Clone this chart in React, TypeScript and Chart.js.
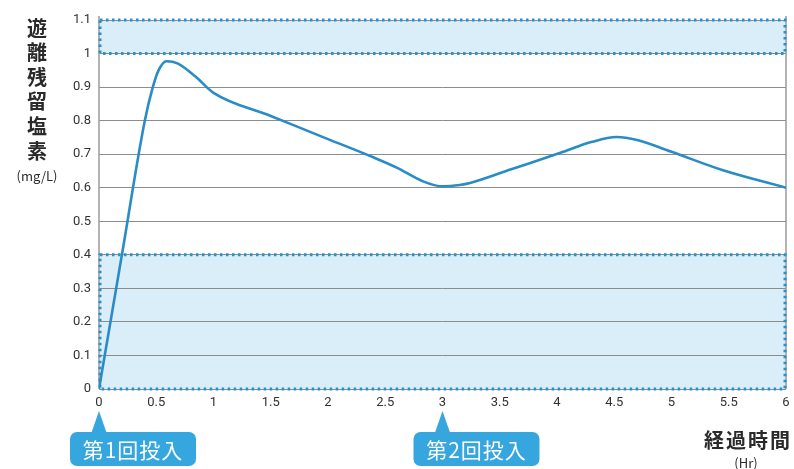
import React, { useEffect, useRef } from "react";
import { Chart, registerables } from "chart.js";

Chart.register(...registerables);

// Data
const hours = [0, 0.2, 0.4, 0.47, 0.52, 0.59, 0.69, 0.84, 1.0, 1.5, 2.0, 2.4, 2.6, 2.83, 3.0, 3.15, 3.24, 3.6, 4.03, 4.3, 4.52, 4.7, 5.0, 5.45, 6];
const chlorine = [0, 0.4, 0.8, 0.9, 0.95, 0.977, 0.97, 0.932, 0.883, 0.814, 0.745, 0.69, 0.66, 0.619, 0.604, 0.608, 0.614, 0.655, 0.704, 0.736, 0.751, 0.742, 0.707, 0.652, 0.6];
const bandRanges: [number, number][] = [[0, 0.4], [1.0, 1.1]];
const doseHours = [0, 3];
const doseLabels = ["第1回投入", "第2回投入"];
const yTitleChars = ["遊", "離", "残", "留", "塩", "素"];
const yUnit = "(mg/L)";
const xTitle = "経過時間";
const xUnit = "(Hr)";

const LINE_COLOR = "#2a8cc5";
const BAND_FILL = "#d9eef9";
const DOT_COLOR = "#2a90cc";
const CALLOUT = "#36a6de";
const TEXT = "#2a2a2a";
const JP = "'Noto Sans CJK JP', 'Noto Sans', sans-serif";

const fmt = (v: any) => String(Math.round(Number(v) * 10) / 10);

const decorPlugin = {
  id: "decor",
  beforeDraw(chart: any) {
    const { ctx, scales } = chart;
    const x = scales.x, y = scales.y;
    ctx.save();
    ctx.fillStyle = BAND_FILL;
    for (const [lo, hi] of bandRanges) {
      const l = x.getPixelForValue(x.min), r = x.getPixelForValue(x.max);
      const t = y.getPixelForValue(hi), b = y.getPixelForValue(lo);
      ctx.fillRect(l, t, r - l, b - t);
    }
    ctx.restore();
  },
  beforeDatasetsDraw(chart: any) {
    const { ctx, scales, chartArea } = chart;
    const x = scales.x, y = scales.y;
    ctx.save();
    ctx.strokeStyle = "#9a9a9a";
    ctx.lineWidth = 1.5;
    ctx.beginPath();
    ctx.moveTo(chartArea.left, chartArea.top - 4);
    ctx.lineTo(chartArea.left, chartArea.bottom);
    ctx.moveTo(chartArea.right, chartArea.top - 4);
    ctx.lineTo(chartArea.right, chartArea.bottom);
    ctx.stroke();
    ctx.strokeStyle = DOT_COLOR;
    ctx.lineWidth = 3;
    ctx.setLineDash([2.5, 3.5]);
    for (const [lo, hi] of bandRanges) {
      const l = x.getPixelForValue(x.min) + 1, r = x.getPixelForValue(x.max) - 1;
      const t = y.getPixelForValue(hi), b = y.getPixelForValue(lo);
      ctx.strokeRect(l, t, r - l, b - t);
    }
    ctx.restore();
  },
  afterDraw(chart: any) {
    const { ctx, scales } = chart;
    const x = scales.x;
    ctx.save();
    ctx.fillStyle = TEXT;
    ctx.textAlign = "center";
    ctx.textBaseline = "middle";
    ctx.font = `bold 20px ${JP}`;
    yTitleChars.forEach((c, i) => ctx.fillText(c, 37, 28 + i * 24.6));
    ctx.font = `13px ${JP}`;
    ctx.fillText(yUnit, 37, 176);
    ctx.textAlign = "right";
    ctx.font = `bold 20px ${JP}`;
    (ctx as any).letterSpacing = "2px";
    ctx.fillText(xTitle, 792, 440);
    (ctx as any).letterSpacing = "0px";
    ctx.textAlign = "center";
    ctx.font = `13px ${JP}`;
    ctx.fillText(xUnit, 746, 463);
    doseHours.forEach((h, i) => {
      const tx = x.getPixelForValue(h);
      ctx.fillStyle = CALLOUT;
      ctx.beginPath();
      ctx.moveTo(tx, 411);
      ctx.lineTo(tx + 8, 434);
      ctx.lineTo(tx - 8, 434);
      ctx.closePath();
      ctx.fill();
      ctx.beginPath();
      (ctx as any).roundRect(tx - 29, 432, 126, 34, 7);
      ctx.fill();
      ctx.fillStyle = "#ffffff";
      ctx.font = `21px ${JP}`;
      (ctx as any).letterSpacing = "1px";
      ctx.textAlign = "center";
      ctx.fillText(doseLabels[i], tx - 29 + 63, 450);
      (ctx as any).letterSpacing = "0px";
    });
    ctx.restore();
  },
};

export default function App() {
  const ref = useRef<HTMLCanvasElement | null>(null);
  useEffect(() => {
    document.body.style.margin = "0";
    const canvas = ref.current!;
    const chart = new Chart(canvas, {
      type: "line",
      data: {
        datasets: [
          {
            data: hours.map((h, i) => ({ x: h, y: chlorine[i] })),
            borderColor: LINE_COLOR,
            borderWidth: 2.6,
            pointRadius: 0,
            cubicInterpolationMode: "monotone",
            fill: false,
          },
        ],
      },
      options: {
        animation: false,
        responsive: false,
        maintainAspectRatio: false,
        layout: { padding: { left: 0, right: 8, top: 20, bottom: 0 } },
        plugins: { legend: { display: false }, tooltip: { enabled: false } },
        scales: {
          x: {
            type: "linear",
            min: 0,
            max: 6,
            ticks: { stepSize: 0.5, color: "#333", font: { family: "Roboto", size: 13 }, padding: 6, maxRotation: 0, callback: fmt },
            grid: { display: false, drawTicks: false },
            border: { display: false },
            afterFit: (s: any) => { s.height = 80; s.paddingLeft = 0; s.paddingRight = 0; },
          },
          y: {
            min: 0,
            max: 1.1,
            ticks: { stepSize: 0.1, color: "#333", font: { family: "Roboto", size: 13 }, padding: 8, callback: fmt },
            grid: { color: "#8c8c8c", lineWidth: 1, drawTicks: false },
            border: { display: false },
            afterFit: (s: any) => { s.width = 99; s.paddingTop = 0; s.paddingBottom = 0; },
          },
        },
      },
      plugins: [decorPlugin],
    });
    return () => chart.destroy();
  }, []);
  return <canvas ref={ref} width={794} height={469} style={{ display: "block" }} />;
}
